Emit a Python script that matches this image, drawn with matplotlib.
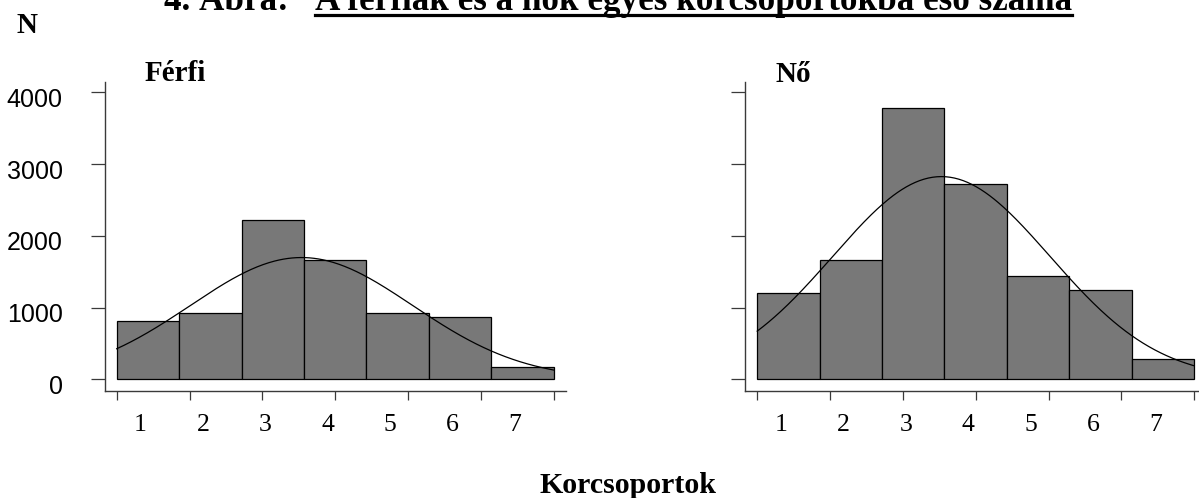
import numpy as np
import matplotlib
matplotlib.use("Agg")
import matplotlib.pyplot as plt
from matplotlib.lines import Line2D
from matplotlib.transforms import ScaledTranslation

# ---- data ----
categories = [1, 2, 3, 4, 5, 6, 7]
tick_labels = ["1", "2", "3", "4", "5", "6", "7"]
ferfi_counts = [812, 919, 2215, 1658, 919, 873, 176]
no_counts = [1200, 1658, 3785, 2717, 1435, 1249, 279]
# normal curve parameters (in category units)
ferfi_mu, ferfi_sigma = 3.46, 1.78
no_mu, no_sigma = 3.45, 1.74
y_ticks = [0, 1000, 2000, 3000, 4000]
y_tick_labels = ["0", "1000", "2000", "3000", "4000"]

W, H = 1199, 498
fig = plt.figure(figsize=(W / 100, H / 100), dpi=100)
fig.patch.set_facecolor("white")

SERIF = "Liberation Serif"
SANS = "Liberation Sans"
BAR_COLOR = "#787878"
AX_COLOR = "#3a3a3a"

ax_w = (566.4 - 104.5) / W
ax_b = (H - 391) / H
ax_h = (391 - 81.7) / H
axL = fig.add_axes([104.5 / W, ax_b, ax_w, ax_h])
axR = fig.add_axes([745.0 / W, ax_b, ax_w, ax_h])


def draw_panel(ax, counts, mu, sigma, show_ylabels):
    x = np.array(categories, dtype=float)
    ax.bar(x, counts, width=1.0, color=BAR_COLOR, edgecolor="black",
           linewidth=0.9, zorder=2)
    n = float(np.sum(counts))
    xs = np.linspace(x[0] - 0.5, x[-1] + 0.5, 300)
    ys = n / (sigma * np.sqrt(2 * np.pi)) * np.exp(-0.5 * ((xs - mu) / sigma) ** 2)
    ax.plot(xs, ys, color="black", linewidth=0.9, zorder=3)

    ax.set_xlim(0.3046, 7.703)
    ax.set_ylim(-163, 4148)
    for s in ("top", "right"):
        ax.spines[s].set_visible(False)
    for s in ("left", "bottom"):
        ax.spines[s].set_color(AX_COLOR)
        ax.spines[s].set_linewidth(1.0)

    # major x ticks: evenly spaced marks, no labels
    edges = np.linspace(x[0] - 0.5, x[-1] + 0.5, 7)
    ax.set_xticks(edges)
    ax.set_xticklabels([])
    ax.tick_params(axis="x", which="major", direction="out", length=6.2,
                   width=0.9, color=AX_COLOR)
    # minor x ticks carry the category labels
    ax.set_xticks(x - 0.12, minor=True)
    ax.set_xticklabels(tick_labels, minor=True, fontfamily=SERIF, fontsize=18.5)
    ax.tick_params(axis="x", which="minor", length=0, pad=16.5)

    ax.set_yticks(y_ticks)
    ax.tick_params(axis="y", direction="out", length=10, width=0.9,
                   color=AX_COLOR, pad=20)
    if show_ylabels:
        ax.set_yticklabels(y_tick_labels, fontfamily=SANS, fontsize=18)
        off = ScaledTranslation(0, -5 / 100, fig.dpi_scale_trans)
        for lab in ax.get_yticklabels():
            lab.set_transform(lab.get_transform() + off)
    else:
        ax.set_yticklabels([])
    ax.set_facecolor("white")


draw_panel(axL, ferfi_counts, ferfi_mu, ferfi_sigma, True)
draw_panel(axR, no_counts, no_mu, no_sigma, False)


def fx(px):
    return px / W


def fy(py):
    return 1 - py / H


fig.text(fx(145), fy(81), "Férfi", family=SERIF, weight="bold", fontsize=21,
         ha="left", va="baseline")
fig.text(fx(776), fy(81.7), "Nő", family=SERIF, weight="bold", fontsize=21,
         ha="left", va="baseline")
fig.text(fx(16.7), fy(33.3), "N", family=SERIF, weight="bold", fontsize=21,
         ha="left", va="baseline")
fig.text(fx(540), fy(493.3), "Korcsoportok", family=SERIF, weight="bold",
         fontsize=21.5, ha="left", va="baseline")

t1 = fig.text(fx(164), fy(10), "4. Ábra:", family=SERIF, weight="bold",
              fontsize=21.5, ha="left", va="baseline")
t2 = fig.text(fx(315), fy(10), "A férfiak és a nők egyes korcsoportokba eső száma",
              family=SERIF, weight="bold", fontsize=21.5, ha="left", va="baseline")

fig.canvas.draw()
r = fig.canvas.get_renderer()
target = 1073.5 - 315
wid = t2.get_window_extent(r).width
fs = 21.5 * target / wid
t1.set_fontsize(fs)
t2.set_fontsize(fs)
fig.canvas.draw()
bb = t2.get_window_extent(r)
fig.add_artist(Line2D([bb.x0 / W, bb.x1 / W], [fy(15), fy(15)],
                      transform=fig.transFigure, color="black", linewidth=2.3))

fig.savefig("out.png", dpi=100, facecolor="white")
